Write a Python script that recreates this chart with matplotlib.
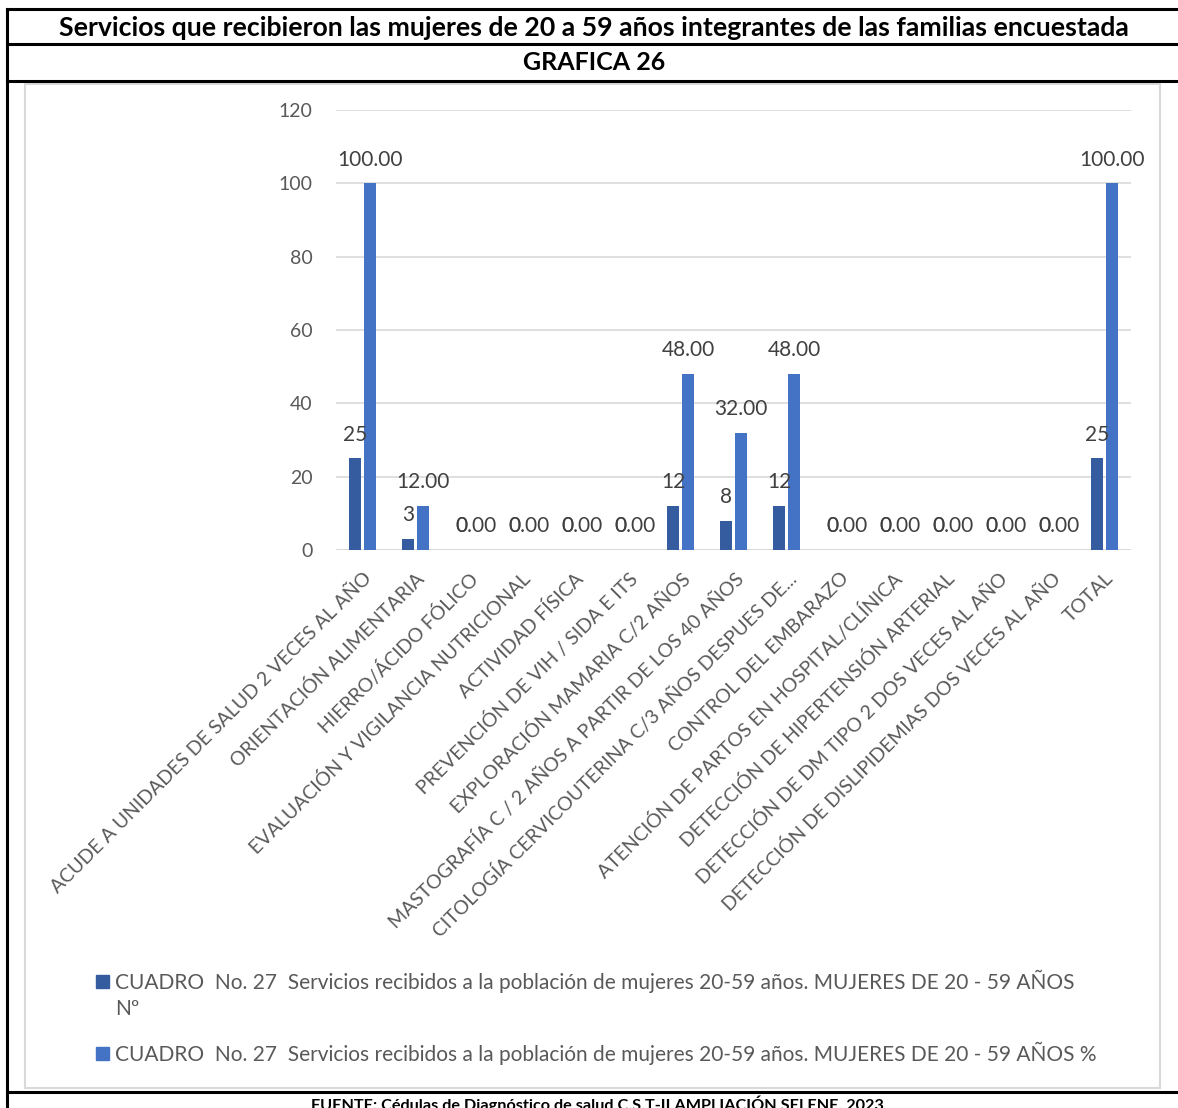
import numpy as np
import matplotlib.pyplot as plt
from matplotlib.lines import Line2D
from matplotlib.patches import Patch, Rectangle
from matplotlib.legend_handler import HandlerPatch

plt.rcParams['font.family'] = ['Lato', 'DejaVu Sans']

# servicios y valores (Nº y %)
categorias = [
    "ACUDE A UNIDADES DE SALUD 2 VECES AL AÑO",
    "ORIENTACIÓN ALIMENTARIA",
    "HIERRO/ÁCIDO FÓLICO",
    "EVALUACIÓN Y VIGILANCIA NUTRICIONAL",
    "ACTIVIDAD FÍSICA",
    "PREVENCIÓN DE VIH / SIDA E ITS",
    "EXPLORACIÓN MAMARIA C/2 AÑOS",
    "MASTOGRAFÍA C / 2 AÑOS A PARTIR DE LOS 40 AÑOS",
    "CITOLOGÍA CERVICOUTERINA C/3 AÑOS DESPUES DE...",
    "CONTROL DEL EMBARAZO",
    "ATENCIÓN DE PARTOS EN HOSPITAL/CLÍNICA",
    "DETECCIÓN DE HIPERTENSIÓN ARTERIAL",
    "DETECCIÓN DE DM TIPO 2 DOS VECES AL AÑO",
    "DETECCIÓN DE DISLIPIDEMIAS DOS VECES AL AÑO",
    "TOTAL",
]
numero = [25, 3, 0, 0, 0, 0, 12, 8, 12, 0, 0, 0, 0, 0, 25]
porcentaje = [100, 12, 0, 0, 0, 0, 48, 32, 48, 0, 0, 0, 0, 0, 100]

serie_num = "CUADRO  No. 27  Servicios recibidos a la población de mujeres 20-59 años. MUJERES DE 20 - 59 AÑOS\nNº"
serie_pct = "CUADRO  No. 27  Servicios recibidos a la población de mujeres 20-59 años. MUJERES DE 20 - 59 AÑOS %"

c_num = '#355C9F'
c_pct = '#4472C4'
gris_txt = '#595959'
W, H = 1178, 1108

fig = plt.figure(figsize=(W / 100, H / 100), dpi=100)
ax = fig.add_axes([336 / W, 1 - 550 / H, 795 / W, 440 / H])

x = np.arange(len(categorias))
bw = 0.235
off = 0.142
ax.bar(x - off, numero, bw, color=c_num, zorder=3)
ax.bar(x + off, porcentaje, bw, color=c_pct, zorder=3)

# etiquetas de datos
for xi, v in zip(x - off, numero):
    ax.annotate(f"{v}", (xi, v), xytext=(0, 17), textcoords='offset points',
                ha='center', va='center', fontsize=15, color='#404040')
for xi, v in zip(x + off, porcentaje):
    ax.annotate(f"{v:.2f}", (xi, v), xytext=(0, 17), textcoords='offset points',
                ha='center', va='center', fontsize=15, color='#404040')

ax.set_xlim(-0.5, len(categorias) - 0.5)
ax.set_ylim(0, 120)
ax.set_yticks(range(0, 121, 20))
ax.yaxis.grid(True, color='#D9D9D9', linewidth=1.2, zorder=0)
ax.set_axisbelow(True)
for s in ax.spines.values():
    s.set_visible(False)
ax.axhline(0, color='#D9D9D9', linewidth=1.2, zorder=1)
ax.tick_params(axis='both', length=0, colors=gris_txt)
ax.tick_params(axis='y', labelsize=14, pad=17)
ax.set_xticks(x)
ax.set_xticklabels(categorias, rotation=45, ha='right', rotation_mode='anchor',
                   fontsize=14, color=gris_txt)
ax.tick_params(axis='x', pad=14)

# leyenda: el cuadrito de la primera serie va a la altura de su primera línea
fs_ley = 15
esp = 1.35

def cuadro_arriba(legend, orig_handle, xdescent, ydescent, width, height, fontsize):
    return Rectangle((-xdescent, -ydescent + 0.5 * esp * fontsize), width, height)

h1 = Patch(color=c_num)
h2 = Patch(color=c_pct)
ley = fig.legend([h1, h2], [serie_num, serie_pct],
                 loc='upper left', bbox_to_anchor=(88 / W, 1 - 962 / H),
                 frameon=False, fontsize=fs_ley, labelcolor=gris_txt,
                 handlelength=0.6, handleheight=0.6, handletextpad=0.3,
                 labelspacing=1.1, borderaxespad=0,
                 handler_map={h1: HandlerPatch(patch_func=cuadro_arriba)})
for t in ley.get_texts():
    t.set_linespacing(esp)

# marco tipo tabla
def linea(x0, y0, x1, y1, color='black', lw=2.2):
    fig.add_artist(Line2D([x0 / W, x1 / W], [1 - y0 / H, 1 - y1 / H],
                          color=color, linewidth=lw))

fig.add_artist(Rectangle((25 / W, 1 - 1088 / H), (1160 - 25) / W, (1088 - 84) / H,
                         fill=False, edgecolor='#D9D9D9', linewidth=1.5))
linea(7, 9, W, 9)
linea(7, 44, W, 44)
linea(7, 81, W, 81)
linea(7, 1092, W, 1092)
linea(7, 9, 7, H)

fig.text(594 / W, 1 - 28 / H,
         "Servicios que recibieron las mujeres de 20 a 59 años integrantes de las familias encuestada",
         ha='center', va='center', fontsize=19.2, fontweight='bold')
fig.text(594 / W, 1 - 63 / H, "GRAFICA 26", ha='center', va='center',
         fontsize=18, fontweight='bold')
fig.text(597 / W, 1 - 1104 / H,
         "FUENTE: Cédulas de Diagnóstico de salud C.S.T-II AMPLIACIÓN SELENE, 2023",
         ha='center', va='center', fontsize=11.7, fontweight='bold')

fig.savefig('out.png', dpi=100)
